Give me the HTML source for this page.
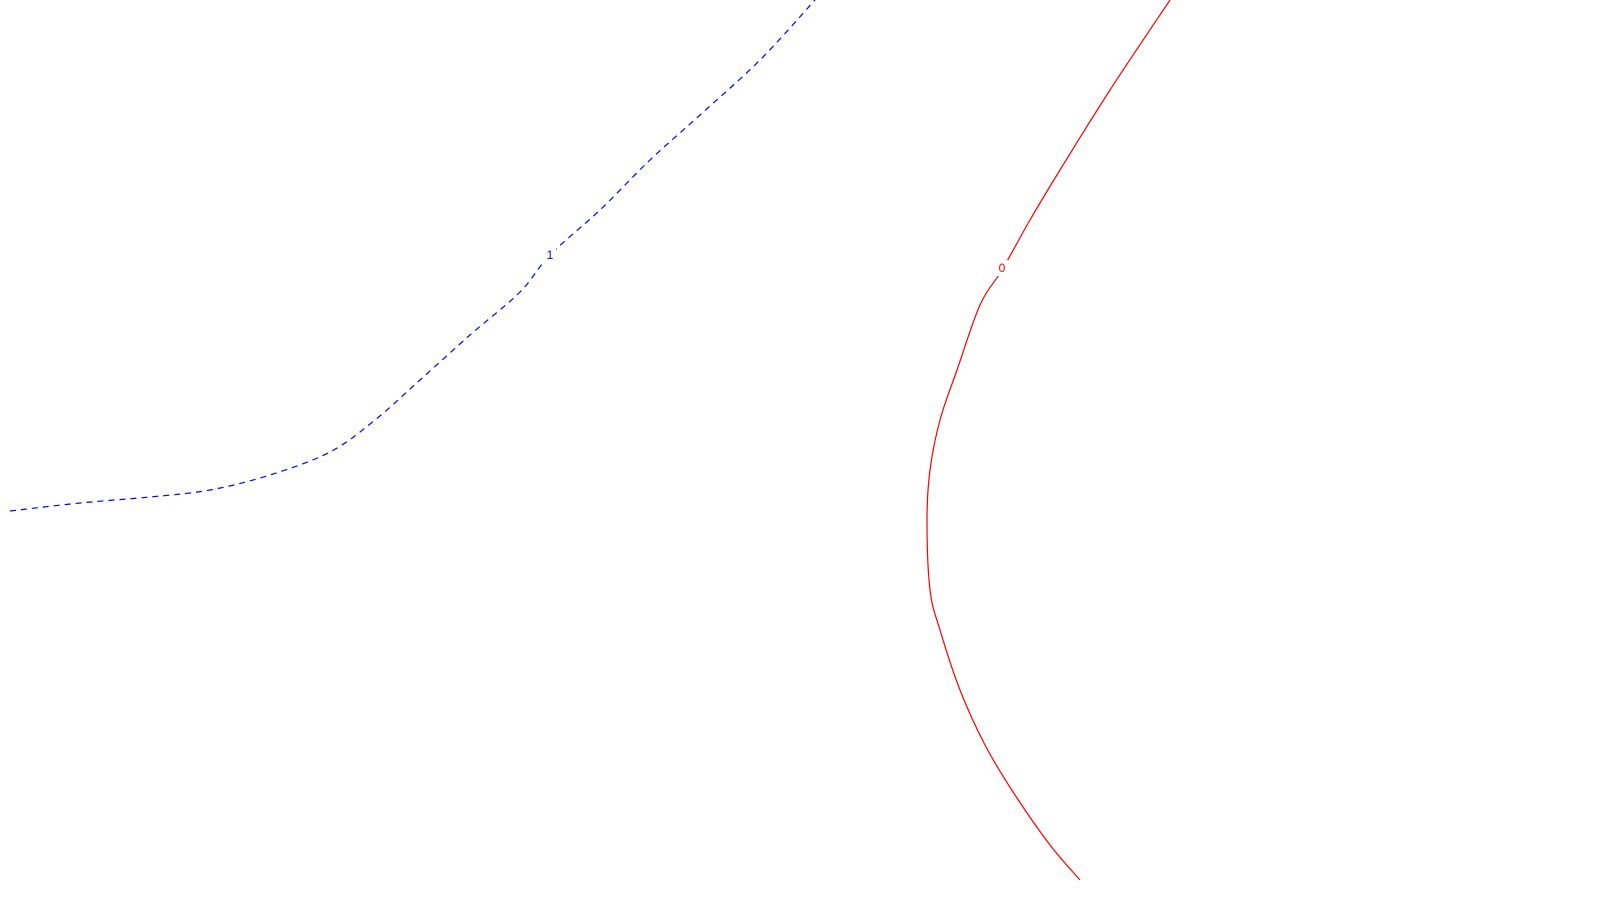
<!DOCTYPE html>
<html><head><meta charset="utf-8"><style>
html,body{margin:0;padding:0;background:#fff;width:1600px;height:900px;overflow:hidden}
svg{display:block}
</style></head><body>
<svg id="chart" width="1600" height="900" viewBox="0 0 1600 900" xmlns="http://www.w3.org/2000/svg"></svg>
<script>
// contour level 0 (red, solid): x values and y values (data units)
const level0X = [11.7,11.1,10.6,10.3,10.02,9.8,9.57,9.4,9.3,9.27,9.3,9.4,9.6,9.85,10.15,10.5,10.8];
const level0Y = [9.0,8.1,7.3,6.8,6.3,5.95,5.3,4.8,4.3,3.8,3.1,2.7,2.1,1.55,1.05,0.55,0.2];
// contour level 1 (blue, dashed)
const level1X = [0.1,0.8,1.5,2.1,2.7,3.3,3.75,4.2,4.7,5.2,5.5,6.0,6.5,7.0,7.6,8.15];
const level1Y = [3.89,3.97,4.03,4.1,4.25,4.48,4.8,5.2,5.65,6.08,6.45,6.9,7.4,7.85,8.4,9.0];
const levelLabels = ["0","1"];
const labelPos0 = 4; // index along level0 where label sits
const labelPos1 = 10;

const W=1600,H=900;
const xMin=0,xMax=16,yMin=0,yMax=9;
const sx=v=>(v-xMin)/(xMax-xMin)*W;
const sy=v=>H-(v-yMin)/(yMax-yMin)*H;
const svg=document.getElementById('chart');
const NS='http://www.w3.org/2000/svg';

function drawLine(xs,ys,color,dash,name){
  const p=document.createElementNS(NS,'path');
  
  
  // Catmull-Rom smoothing
  const pts=xs.map((x,i)=>[sx(x),sy(ys[i])]);
  let d='M'+pts[0][0]+','+pts[0][1];
  for(let i=0;i<pts.length-1;i++){
    const p0=pts[i-1]||pts[i],p1=pts[i],p2=pts[i+1],p3=pts[i+2]||p2;
    const c1=[p1[0]+(p2[0]-p0[0])/6,p1[1]+(p2[1]-p0[1])/6];
    const c2=[p2[0]-(p3[0]-p1[0])/6,p2[1]-(p3[1]-p1[1])/6];
    d+=` C${c1[0]},${c1[1]} ${c2[0]},${c2[1]} ${p2[0]},${p2[1]}`;
  }
  p.setAttribute('d',d);
  p.setAttribute('fill','none');
  p.setAttribute('stroke',color);
  p.setAttribute('stroke-width','1.2');
  if(dash)p.setAttribute('stroke-dasharray',dash);
  svg.appendChild(p);
}
function drawLabel(x,y,txt,color,name){
  const bg=document.createElementNS(NS,'rect');
  
  
  bg.setAttribute('x',sx(x)-6);bg.setAttribute('y',sy(y)-8);
  bg.setAttribute('width',12);bg.setAttribute('height',16);
  bg.setAttribute('fill','#fff');
  svg.appendChild(bg);
  const t=document.createElementNS(NS,'text');
  
  
  t.setAttribute('x',sx(x));t.setAttribute('y',sy(y)+4);
  t.setAttribute('text-anchor','middle');
  t.setAttribute('font-family','Liberation Sans, sans-serif');
  t.setAttribute('font-size','12');
  t.setAttribute('fill',color);
  t.textContent=txt;
  svg.appendChild(t);
}
drawLine(level0X,level0Y,'#ff0000',null,'contour-level-0');
drawLine(level1X,level1Y,'#0000ff','6,5','contour-level-1');
drawLabel(level0X[labelPos0],level0Y[labelPos0]+0.02,levelLabels[0],'#ff0000','contour-label-0');
drawLabel(level1X[labelPos1],level1Y[labelPos1],levelLabels[1],'#0000ff','contour-label-1');
</script>
</body></html>
